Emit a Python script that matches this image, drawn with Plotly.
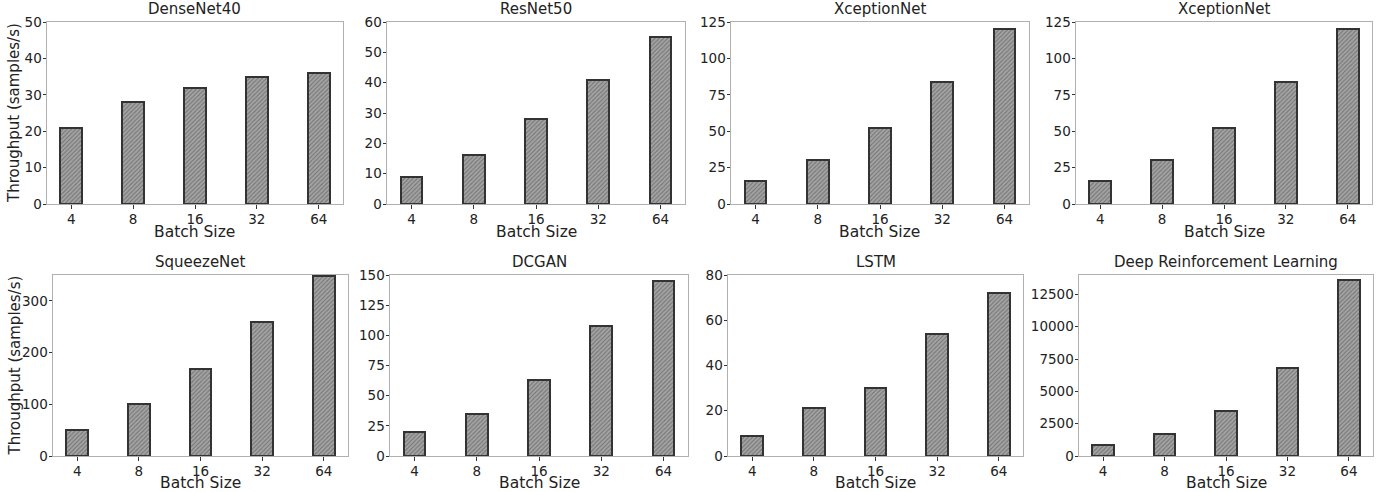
import plotly.graph_objects as go

batch_sizes = ["4", "8", "16", "32", "64"]
titles = ["DenseNet40", "ResNet50", "XceptionNet", "XceptionNet",
          "SqueezeNet", "DCGAN", "LSTM", "Deep Reinforcement Learning"]
densenet40 = [21, 28, 32, 35, 36]
resnet50 = [9, 16, 28, 41, 55]
xception_a = [16, 30, 52, 84, 120]
xception_b = [16, 30, 52, 84, 120]
squeezenet = [50, 100, 168, 260, 349]
dcgan = [20, 35, 63, 108, 145]
lstm = [9, 21, 30, 54, 72]
drl = [850, 1700, 3500, 6800, 13600]
series = [densenet40, resnet50, xception_a, xception_b, squeezenet, dcgan, lstm, drl]
y_max = [50, 60, 125, 125, 350, 150, 80, 14000]
y_dtick = [10, 10, 25, 25, 100, 25, 20, 2500]

W, H = 1380, 492
x_px = [(47, 343), (387, 685), (731, 1029), (1076, 1372),
        (53, 348), (390, 688), (728, 1023), (1079, 1373)]
y_px = [(22, 204)] * 4 + [(275, 456)] * 4

FONT = "DejaVu Sans"
TXT = "#222222"

fig = go.Figure()
layout = dict(
    width=W, height=H, margin=dict(l=0, r=0, t=0, b=0, autoexpand=False),
    paper_bgcolor="white", plot_bgcolor="white",
    showlegend=False, font=dict(family=FONT, color=TXT, size=14),
    bargap=0,
)
annotations = []
for i in range(8):
    n = i + 1
    xa = "x" if n == 1 else f"x{n}"
    ya = "y" if n == 1 else f"y{n}"
    fig.add_trace(go.Bar(
        x=batch_sizes, y=series[i], xaxis=xa, yaxis=ya, width=0.35,
        marker=dict(color="#9a9a9a",
                    line=dict(color="#333333", width=2),
                    pattern=dict(shape="/", fgcolor="#444444", bgcolor="#a4a4a4",
                                 size=3, solidity=0.35)),
        hoverinfo="x+y",
    ))
    x0, x1 = x_px[i]
    yt, yb = y_px[i]
    common = dict(showline=True, mirror=True, linecolor="#b0b0b0", linewidth=1,
                  showgrid=False, zeroline=False, ticks="outside", ticklen=3.5,
                  automargin=False,
                  tickcolor="#333333", tickfont=dict(family=FONT, size=13.5, color=TXT))
    layout["xaxis" if n == 1 else f"xaxis{n}"] = dict(
        domain=[x0 / W, x1 / W], anchor=ya, type="category", ticklabelstandoff=-1,
        range=[-0.3925, 4.3925], **common)
    layout["yaxis" if n == 1 else f"yaxis{n}"] = dict(
        domain=[1 - yb / H, 1 - yt / H], anchor=xa, tickformat="d",
        ticklabelstandoff=-2,
        range=[0, y_max[i]], tick0=0, dtick=y_dtick[i], **common)
    cx = (x0 + x1) / 2 / W
    annotations.append(dict(text=titles[i], x=cx, y=1 - (yt - 2) / H,
                            xref="paper", yref="paper", xanchor="center", yanchor="bottom",
                            showarrow=False, font=dict(family=FONT, size=15, color=TXT)))
    annotations.append(dict(text="Batch Size", x=cx, y=1 - (yb + (17 if i < 4 else 15.5)) / H,
                            xref="paper", yref="paper", xanchor="center", yanchor="top",
                            showarrow=False, font=dict(family=FONT, size=15.5, color=TXT)))
    if i % 4 == 0:
        annotations.append(dict(text="Throughput (samples/s)", x=14 / W,
                                y=1 - (yt + yb) / 2 / H,
                                xref="paper", yref="paper", xanchor="center", yanchor="middle",
                                textangle=-90, showarrow=False,
                                font=dict(family=FONT, size=15, color=TXT)))
layout["annotations"] = annotations
fig.update_layout(**layout)
fig.write_html("out.html", config={"displayModeBar": False},
               post_script="document.body.style.margin='0';document.body.style.overflow='hidden';")
